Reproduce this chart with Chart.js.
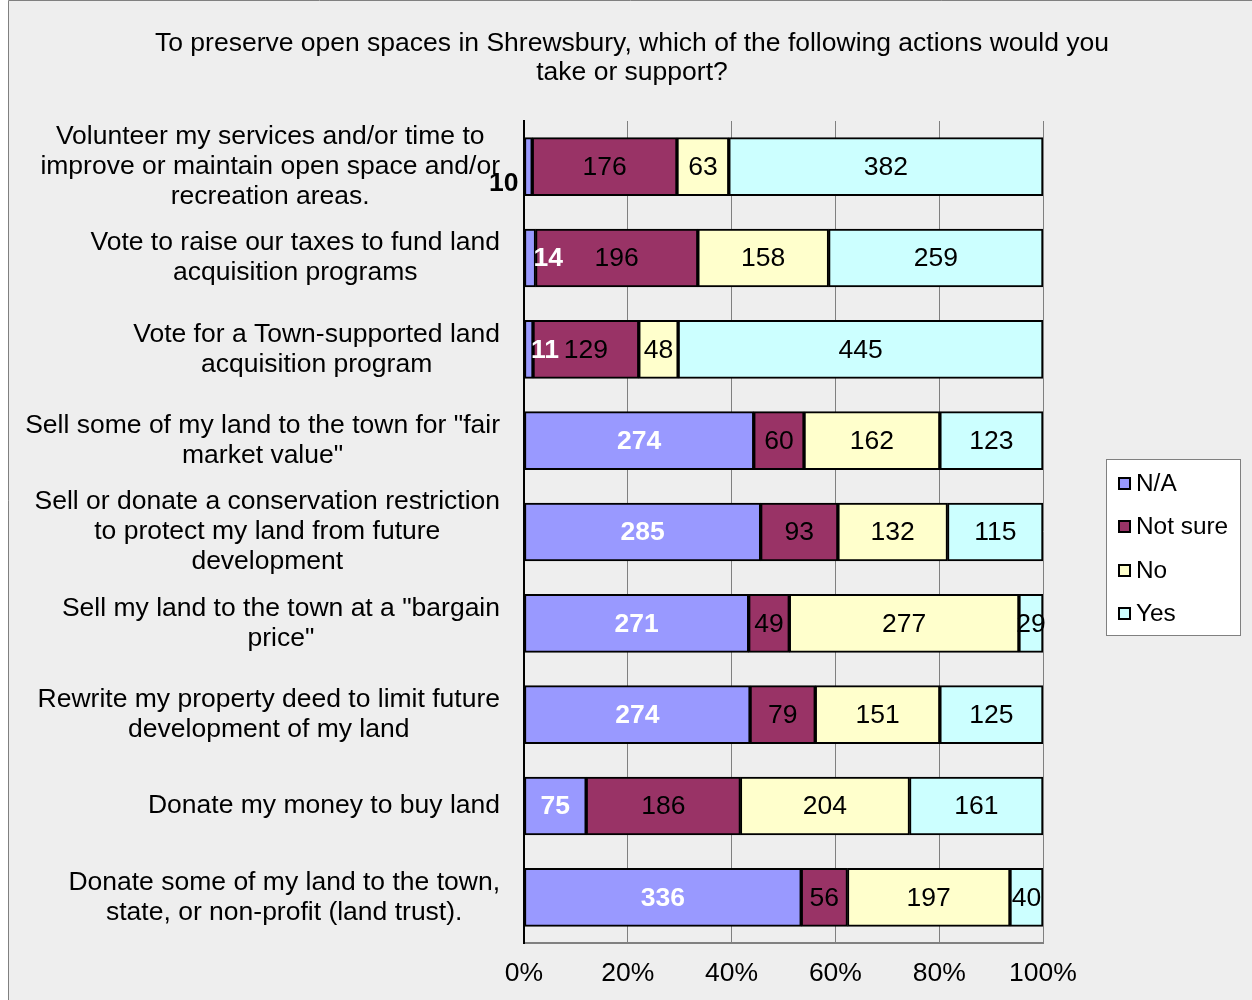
<!DOCTYPE html>
<html>
<head>
<meta charset="utf-8">
<script src="https://cdn.jsdelivr.net/npm/chart.js@4/dist/chart.umd.min.js"></script>
<style>
html,body{margin:0;padding:0;background:#fff;}
#wrap{width:1252px;height:1000px;position:relative;}
</style>
</head>
<body>
<div id="wrap"><canvas id="c" width="1252" height="1000"></canvas></div>
<script>
const titleLines = ["To preserve open spaces in Shrewsbury, which of the following actions would you", "take or support?"];
const categories = [
  ["Volunteer my services and/or time to", "improve or maintain open space and/or", "recreation areas."],
  ["Vote to raise our taxes to fund land", "acquisition programs"],
  ["Vote for a Town-supported land", "acquisition program"],
  ["Sell some of my land to the town for \"fair", "market value\""],
  ["Sell or donate a conservation restriction", "to protect my land from future", "development"],
  ["Sell my land to the town at a \"bargain", "price\""],
  ["Rewrite my property deed to limit future", "development of my land"],
  ["Donate my money to buy land"],
  ["Donate some of my land to the town,", "state, or non-profit (land trust)."]
];
const seriesNames = ["N/A", "Not sure", "No", "Yes"];
const naValues      = [10, 14, 11, 274, 285, 271, 274, 75, 336];
const notSureValues = [176, 196, 129, 60, 93, 49, 79, 186, 56];
const noValues      = [63, 158, 48, 162, 132, 277, 151, 204, 197];
const yesValues     = [382, 259, 445, 123, 115, 29, 125, 161, 40];
const xTickLabels = ["0%", "20%", "40%", "60%", "80%", "100%"];

const colors = ["#9999FF", "#993366", "#FFFFCC", "#CCFFFF"];
const FONT = "'Liberation Sans', Arial, sans-serif";
const FS = 26.5;

const raw = [naValues, notSureValues, noValues, yesValues];
const totals = naValues.map((_, i) => raw.reduce((s, arr) => s + arr[i], 0));
const pct = raw.map(arr => arr.map((v, i) => v / totals[i] * 100));

const bgPlugin = {
  id: 'bg',
  beforeDraw(chart) {
    const ctx = chart.ctx;
    ctx.save();
    ctx.fillStyle = '#ffffff';
    ctx.fillRect(0, 0, chart.width, chart.height);
    ctx.fillStyle = '#eeeeee';
    ctx.fillRect(8, 1, chart.width, chart.height);
    ctx.strokeStyle = '#808080';
    ctx.lineWidth = 1;
    ctx.beginPath();
    ctx.moveTo(8.5, chart.height);
    ctx.lineTo(8.5, 0.5);
    ctx.lineTo(chart.width, 0.5);
    ctx.stroke();
    // title
    ctx.fillStyle = '#000';
    ctx.font = FS + "px " + FONT;
    ctx.textAlign = 'center';
    ctx.textBaseline = 'middle';
    ctx.fillText(titleLines[0], 632, 44);
    ctx.fillText(titleLines[1], 632, 73);
    ctx.restore();
  }
};

const yLabelPlugin = {
  id: 'yLabels',
  afterDraw(chart) {
    const ctx = chart.ctx;
    const ys = chart.scales.y;
    ctx.save();
    ctx.font = FS + "px " + FONT;
    ctx.fillStyle = '#000';
    ctx.textAlign = 'center';
    ctx.textBaseline = 'middle';
    const lh = 30;
    categories.forEach((lines, i) => {
      const yc = ys.getPixelForTick(i);
      const maxW = Math.max(...lines.map(l => ctx.measureText(l).width));
      const xc = 500 - maxW / 2;
      const y0 = yc - (lines.length - 1) * lh / 2;
      lines.forEach((l, k) => ctx.fillText(l, xc, y0 + k * lh));
    });
    ctx.restore();
  }
};

const labelPlugin = {
  id: 'labels',
  afterDatasetsDraw(chart) {
    const ctx = chart.ctx;
    ctx.save();
    ctx.textBaseline = 'middle';
    chart.data.datasets.forEach((ds, di) => {
      const meta = chart.getDatasetMeta(di);
      meta.data.forEach((bar, i) => {
        const val = raw[di][i];
        const left = bar.base, right = bar.x;
        const w = right - left;
        let x = (left + right) / 2;
        let y = bar.y + 1;
        ctx.textAlign = 'center';
        if (di === 0) {
          ctx.font = "bold " + FS + "px " + FONT;
          ctx.fillStyle = '#ffffff';
          if (w < 30) {
            if (i === 0) {
              ctx.fillStyle = '#000000';
              ctx.textAlign = 'right';
              x = left - 6;
              y = bar.y + 17;
            } else {
              ctx.textAlign = 'left';
              x = right - 2;
            }
          }
        } else {
          ctx.font = FS + "px " + FONT;
          ctx.fillStyle = '#000000';
        }
        ctx.fillText(String(val), x, y);
      });
    });
    ctx.restore();
  }
};

const legendPlugin = {
  id: 'customLegend',
  afterDraw(chart) {
    const ctx = chart.ctx;
    ctx.save();
    ctx.fillStyle = '#ffffff';
    ctx.fillRect(1106, 459, 134, 176);
    ctx.strokeStyle = '#808080';
    ctx.lineWidth = 1;
    ctx.strokeRect(1106.5, 459.5, 134, 176);
    const ys = [483, 526, 570, 613];
    ctx.font = "24.4px " + FONT;
    ctx.textBaseline = 'middle';
    ctx.textAlign = 'left';
    seriesNames.forEach((n, i) => {
      ctx.fillStyle = colors[i];
      ctx.fillRect(1119, ys[i] - 5, 11, 11);
      ctx.strokeStyle = '#000';
      ctx.lineWidth = 2;
      ctx.strokeRect(1119, ys[i] - 5, 11, 11);
      ctx.fillStyle = '#000';
      ctx.fillText(n, 1136, ys[i] + 1);
    });
    ctx.restore();
  }
};

new Chart(document.getElementById('c'), {
  type: 'bar',
  data: {
    labels: categories,
    datasets: seriesNames.map((n, i) => ({
      label: n,
      data: pct[i],
      backgroundColor: colors[i],
      borderColor: '#000000',
      borderWidth: 2,
      borderSkipped: false,
      barThickness: 58
    }))
  },
  options: {
    indexAxis: 'y',
    responsive: false,
    animation: false,
    events: [],
    layout: { padding: { left: 0, right: 209, top: 121, bottom: 0 } },
    plugins: {
      legend: { display: false },
      title: { display: false },
      tooltip: { enabled: false }
    },
    scales: {
      x: {
        stacked: true,
        min: 0,
        max: 100,
        afterFit(s) { s.height = 57; },
        afterBuildTicks(s) { s.ticks = [0,20,40,60,80,100].map(v => ({ value: v })); },
        ticks: {
          padding: 15,
          color: '#000',
          font: { family: FONT, size: FS },
          callback: (v, i) => xTickLabels[i]
        },
        grid: { color: '#808080', lineWidth: 1, drawTicks: false },
        border: { display: true, color: '#808080', width: 2 }
      },
      y: {
        stacked: true,
        afterFit(s) { s.width = 524; },
        ticks: { display: false, autoSkip: false },
        grid: { display: false, drawTicks: false },
        border: { display: true, color: '#000', width: 2 }
      }
    }
  },
  plugins: [bgPlugin, labelPlugin, yLabelPlugin, legendPlugin]
});
</script>
</body>
</html>
